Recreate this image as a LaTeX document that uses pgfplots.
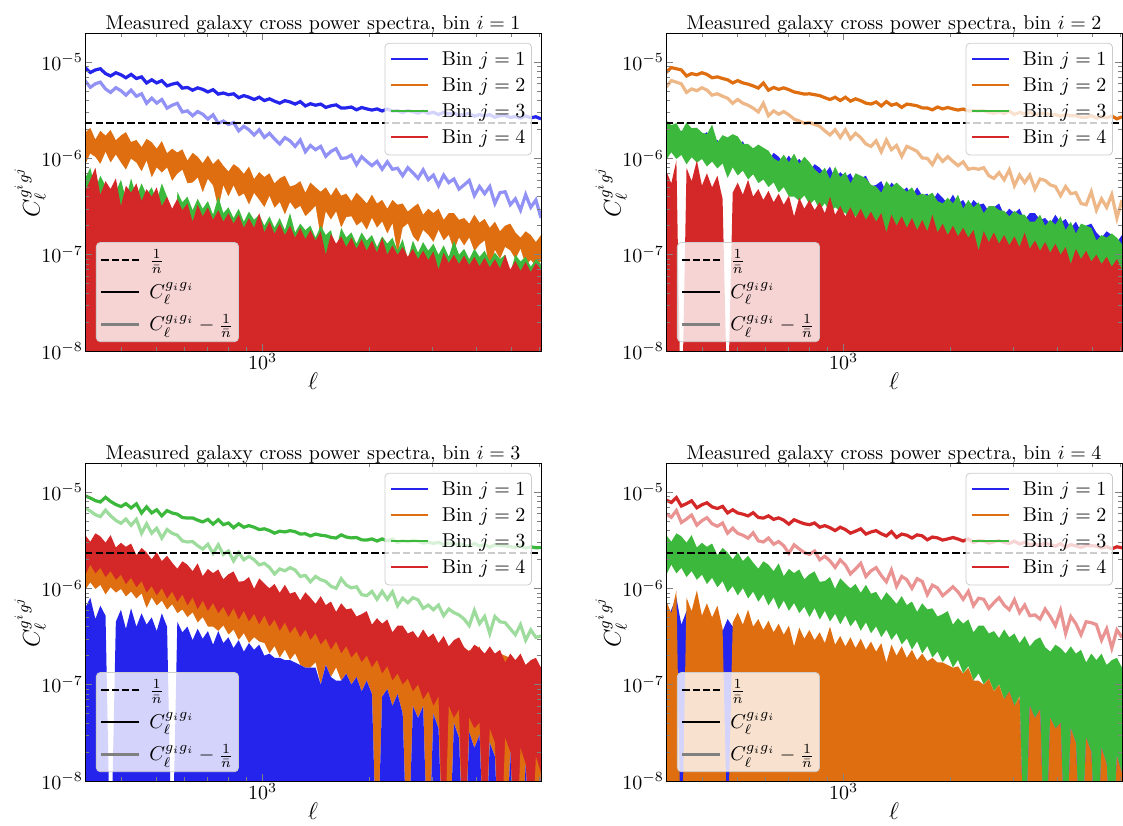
\documentclass[border=0pt]{standalone}
\usepackage{pgfplots}
\usepackage{pgfplotstable}
\pgfplotsset{compat=1.18}

\definecolor{cb}{RGB}{36,36,236}
\definecolor{co}{RGB}{222,110,16}
\definecolor{cg}{RGB}{60,185,60}
\definecolor{cr}{RGB}{212,40,40}

\pgfplotstableread{
n c1 c2 c3 c4 c5 c6 c7 c8 c9 c10 c11 c12 c13 c14 c15 c16 c17 c18 c19 c20 c21 c22 c23 c24 c25 c26 c27 c28 c29 c30 c31 c32 c33 c34 c35 c36 c37 c38 c39 c40 c41 c42 c43 c44 c45 c46 c47 c48 c49 c50 c51 c52 c53 c54 c55 c56 c57 c58 c59 c60 c61 c62 c63 c64 c65 c66 c67 c68 c69 c70 c71 c72 c73 c74 c75 c76 c77 c78 c79 c80 c81 c82 c83 c84 c85 c86 c87 c88 c89 c90
l 316 327 338 349 361 373 386 399 412 426 441 456 471 487 503 520 538 556 575 594 614 635 656 678 701 725 750 775 801 828 856 885 915 946 978 1011 1045 1080 1117 1155 1194 1234 1276 1319 1363 1409 1457 1506 1557 1610 1664 1720 1778 1838 1900 1964 2031 2099 2170 2244 2320 2398 2479 2563 2649 2739 2831 2927 3026 3128 3234 3343 3456 3573 3693 3818 3947 4081 4218 4361 4508 4660 4818 4981 5149 5323 5503 5689 5881 6080
aa 8.75e-6 7.79e-6 8.27e-6 8.51e-6 7.58e-6 7.16e-6 7.74e-6 7.37e-6 6.86e-6 7.44e-6 6.74e-6 7.01e-6 6.06e-6 6.54e-6 6.07e-6 6.41e-6 5.65e-6 5.89e-6 6.06e-6 5.36e-6 5.44e-6 5.10e-6 5.39e-6 5.20e-6 4.89e-6 5.16e-6 4.64e-6 4.77e-6 4.58e-6 4.68e-6 4.26e-6 4.48e-6 4.31e-6 4.08e-6 4.31e-6 3.98e-6 4.15e-6 3.92e-6 3.74e-6 3.97e-6 3.85e-6 3.66e-6 3.88e-6 3.50e-6 3.69e-6 3.56e-6 3.66e-6 3.38e-6 3.51e-6 3.59e-6 3.33e-6 3.34e-6 3.41e-6 3.19e-6 3.37e-6 3.26e-6 3.17e-6 3.26e-6 3.10e-6 3.25e-6 3.10e-6 3.12e-6 2.99e-6 3.13e-6 3.04e-6 2.95e-6 3.09e-6 2.93e-6 3.00e-6 2.85e-6 3.00e-6 2.89e-6 2.94e-6 2.81e-6 2.86e-6 2.92e-6 2.74e-6 2.84e-6 2.76e-6 2.84e-6 2.67e-6 2.77e-6 2.78e-6 2.66e-6 2.71e-6 2.62e-6 2.75e-6 2.64e-6 2.70e-6 2.57e-6
sa 6.42e-6 5.46e-6 5.94e-6 6.18e-6 5.25e-6 4.83e-6 5.41e-6 5.04e-6 4.53e-6 5.11e-6 4.41e-6 4.68e-6 3.73e-6 4.21e-6 3.74e-6 4.08e-6 3.32e-6 3.56e-6 3.73e-6 3.03e-6 3.11e-6 2.77e-6 3.06e-6 2.87e-6 2.56e-6 2.83e-6 2.31e-6 2.44e-6 2.25e-6 2.35e-6 1.93e-6 2.15e-6 1.98e-6 1.75e-6 1.98e-6 1.65e-6 1.82e-6 1.59e-6 1.41e-6 1.64e-6 1.52e-6 1.33e-6 1.55e-6 1.17e-6 1.36e-6 1.23e-6 1.33e-6 1.05e-6 1.18e-6 1.26e-6 1.00e-6 1.01e-6 1.08e-6 0.86e-6 1.04e-6 0.93e-6 0.84e-6 0.93e-6 0.77e-6 0.92e-6 0.77e-6 0.79e-6 0.66e-6 0.80e-6 0.71e-6 0.62e-6 0.76e-6 0.60e-6 0.67e-6 0.52e-6 0.67e-6 0.56e-6 0.61e-6 0.48e-6 0.53e-6 0.59e-6 0.41e-6 0.51e-6 0.43e-6 0.51e-6 0.34e-6 0.44e-6 0.45e-6 0.33e-6 0.38e-6 0.29e-6 0.42e-6 0.31e-6 0.37e-6 0.24e-6
ab 7.79e-6 8.75e-6 8.51e-6 8.27e-6 7.16e-6 7.58e-6 7.37e-6 7.74e-6 7.44e-6 6.86e-6 7.01e-6 6.74e-6 6.54e-6 6.06e-6 6.41e-6 6.07e-6 5.89e-6 5.65e-6 5.36e-6 6.06e-6 5.10e-6 5.44e-6 5.20e-6 5.39e-6 5.16e-6 4.89e-6 4.77e-6 4.64e-6 4.68e-6 4.58e-6 4.48e-6 4.26e-6 4.08e-6 4.31e-6 3.98e-6 4.31e-6 3.92e-6 4.15e-6 3.97e-6 3.74e-6 3.66e-6 3.85e-6 3.50e-6 3.88e-6 3.56e-6 3.69e-6 3.38e-6 3.66e-6 3.59e-6 3.51e-6 3.34e-6 3.33e-6 3.19e-6 3.41e-6 3.26e-6 3.37e-6 3.26e-6 3.17e-6 3.25e-6 3.10e-6 3.12e-6 3.10e-6 3.13e-6 2.99e-6 2.95e-6 3.04e-6 2.93e-6 3.09e-6 2.85e-6 3.00e-6 2.89e-6 3.00e-6 2.81e-6 2.94e-6 2.92e-6 2.86e-6 2.84e-6 2.74e-6 2.84e-6 2.76e-6 2.77e-6 2.67e-6 2.66e-6 2.78e-6 2.62e-6 2.71e-6 2.64e-6 2.75e-6 2.57e-6 2.70e-6
sb 5.46e-6 6.42e-6 6.18e-6 5.94e-6 4.83e-6 5.25e-6 5.04e-6 5.41e-6 5.11e-6 4.53e-6 4.68e-6 4.41e-6 4.21e-6 3.73e-6 4.08e-6 3.74e-6 3.56e-6 3.32e-6 3.03e-6 3.73e-6 2.77e-6 3.11e-6 2.87e-6 3.06e-6 2.83e-6 2.56e-6 2.44e-6 2.31e-6 2.35e-6 2.25e-6 2.15e-6 1.93e-6 1.75e-6 1.98e-6 1.65e-6 1.98e-6 1.59e-6 1.82e-6 1.64e-6 1.41e-6 1.33e-6 1.52e-6 1.17e-6 1.55e-6 1.23e-6 1.36e-6 1.05e-6 1.33e-6 1.26e-6 1.18e-6 1.01e-6 1.00e-6 0.86e-6 1.08e-6 0.93e-6 1.04e-6 0.93e-6 0.84e-6 0.92e-6 0.77e-6 0.79e-6 0.77e-6 0.80e-6 0.66e-6 0.62e-6 0.71e-6 0.60e-6 0.76e-6 0.52e-6 0.67e-6 0.56e-6 0.67e-6 0.48e-6 0.61e-6 0.59e-6 0.53e-6 0.51e-6 0.41e-6 0.51e-6 0.43e-6 0.44e-6 0.34e-6 0.33e-6 0.45e-6 0.29e-6 0.38e-6 0.31e-6 0.42e-6 0.24e-6 0.37e-6
ac 9.15e-6 8.67e-6 8.14e-6 7.88e-6 8.81e-6 7.99e-6 7.41e-6 7.06e-6 7.57e-6 6.84e-6 7.54e-6 6.06e-6 7.01e-6 6.07e-6 6.54e-6 5.65e-6 6.41e-6 6.06e-6 5.89e-6 5.44e-6 5.36e-6 5.39e-6 5.10e-6 4.89e-6 5.20e-6 4.64e-6 5.16e-6 4.58e-6 4.77e-6 4.26e-6 4.68e-6 4.31e-6 4.48e-6 4.31e-6 4.08e-6 4.15e-6 3.98e-6 3.74e-6 3.92e-6 3.85e-6 3.97e-6 3.88e-6 3.66e-6 3.69e-6 3.50e-6 3.66e-6 3.56e-6 3.51e-6 3.38e-6 3.33e-6 3.59e-6 3.41e-6 3.34e-6 3.37e-6 3.19e-6 3.17e-6 3.26e-6 3.10e-6 3.26e-6 3.10e-6 3.25e-6 2.99e-6 3.12e-6 3.04e-6 3.13e-6 3.09e-6 2.95e-6 3.00e-6 2.93e-6 3.00e-6 2.85e-6 2.94e-6 2.89e-6 2.86e-6 2.81e-6 2.74e-6 2.92e-6 2.76e-6 2.84e-6 2.67e-6 2.84e-6 2.78e-6 2.77e-6 2.71e-6 2.66e-6 2.75e-6 2.62e-6 2.70e-6 2.64e-6 2.65e-6
sc 6.82e-6 6.34e-6 5.81e-6 5.55e-6 6.48e-6 5.66e-6 5.08e-6 4.73e-6 5.24e-6 4.51e-6 5.21e-6 3.73e-6 4.68e-6 3.74e-6 4.21e-6 3.32e-6 4.08e-6 3.73e-6 3.56e-6 3.11e-6 3.03e-6 3.06e-6 2.77e-6 2.56e-6 2.87e-6 2.31e-6 2.83e-6 2.25e-6 2.44e-6 1.93e-6 2.35e-6 1.98e-6 2.15e-6 1.98e-6 1.75e-6 1.82e-6 1.65e-6 1.41e-6 1.59e-6 1.52e-6 1.64e-6 1.55e-6 1.33e-6 1.36e-6 1.17e-6 1.33e-6 1.23e-6 1.18e-6 1.05e-6 1.00e-6 1.26e-6 1.08e-6 1.01e-6 1.04e-6 0.86e-6 0.84e-6 0.93e-6 0.77e-6 0.93e-6 0.77e-6 0.92e-6 0.66e-6 0.79e-6 0.71e-6 0.80e-6 0.76e-6 0.62e-6 0.67e-6 0.60e-6 0.67e-6 0.52e-6 0.61e-6 0.56e-6 0.53e-6 0.48e-6 0.41e-6 0.59e-6 0.43e-6 0.51e-6 0.34e-6 0.51e-6 0.45e-6 0.44e-6 0.38e-6 0.33e-6 0.42e-6 0.29e-6 0.37e-6 0.31e-6 0.32e-6
ad 8.27e-6 7.79e-6 8.75e-6 7.16e-6 7.58e-6 8.10e-6 6.86e-6 7.37e-6 7.74e-6 7.01e-6 6.74e-6 7.10e-6 6.07e-6 6.54e-6 6.06e-6 5.89e-6 5.65e-6 6.10e-6 5.44e-6 5.36e-6 5.66e-6 5.20e-6 5.39e-6 5.10e-6 4.64e-6 5.16e-6 4.89e-6 4.68e-6 4.58e-6 4.77e-6 4.31e-6 4.48e-6 4.26e-6 3.98e-6 4.31e-6 4.08e-6 3.74e-6 3.92e-6 4.15e-6 3.66e-6 3.85e-6 3.97e-6 3.69e-6 3.50e-6 3.88e-6 3.38e-6 3.66e-6 3.56e-6 3.33e-6 3.59e-6 3.51e-6 3.19e-6 3.41e-6 3.34e-6 3.17e-6 3.26e-6 3.37e-6 3.25e-6 3.10e-6 3.26e-6 2.99e-6 3.12e-6 3.10e-6 2.95e-6 3.04e-6 3.13e-6 3.00e-6 2.93e-6 3.09e-6 2.89e-6 3.00e-6 2.85e-6 2.86e-6 2.81e-6 2.94e-6 2.84e-6 2.74e-6 2.92e-6 2.67e-6 2.84e-6 2.76e-6 2.66e-6 2.78e-6 2.77e-6 2.75e-6 2.62e-6 2.71e-6 2.57e-6 2.70e-6 2.64e-6
sd 5.94e-6 5.46e-6 6.42e-6 4.83e-6 5.25e-6 5.77e-6 4.53e-6 5.04e-6 5.41e-6 4.68e-6 4.41e-6 4.77e-6 3.74e-6 4.21e-6 3.73e-6 3.56e-6 3.32e-6 3.77e-6 3.11e-6 3.03e-6 3.33e-6 2.87e-6 3.06e-6 2.77e-6 2.31e-6 2.83e-6 2.56e-6 2.35e-6 2.25e-6 2.44e-6 1.98e-6 2.15e-6 1.93e-6 1.65e-6 1.98e-6 1.75e-6 1.41e-6 1.59e-6 1.82e-6 1.33e-6 1.52e-6 1.64e-6 1.36e-6 1.17e-6 1.55e-6 1.05e-6 1.33e-6 1.23e-6 1.00e-6 1.26e-6 1.18e-6 0.86e-6 1.08e-6 1.01e-6 0.84e-6 0.93e-6 1.04e-6 0.92e-6 0.77e-6 0.93e-6 0.66e-6 0.79e-6 0.77e-6 0.62e-6 0.71e-6 0.80e-6 0.67e-6 0.60e-6 0.76e-6 0.56e-6 0.67e-6 0.52e-6 0.53e-6 0.48e-6 0.61e-6 0.51e-6 0.41e-6 0.59e-6 0.34e-6 0.51e-6 0.43e-6 0.33e-6 0.45e-6 0.44e-6 0.42e-6 0.29e-6 0.38e-6 0.24e-6 0.37e-6 0.31e-6
pu 1.84e-6 2.07e-6 1.57e-6 1.93e-6 1.72e-6 1.97e-6 1.54e-6 1.73e-6 1.87e-6 1.48e-6 1.55e-6 1.31e-6 1.59e-6 1.47e-6 1.26e-6 1.51e-6 1.13e-6 1.26e-6 1.15e-6 1.24e-6 0.95e-6 1.14e-6 1.04e-6 0.89e-6 1.07e-6 0.87e-6 0.99e-6 0.84e-6 0.73e-6 0.87e-6 0.80e-6 0.69e-6 0.82e-6 0.61e-6 0.72e-6 0.64e-6 0.70e-6 0.55e-6 0.62e-6 0.66e-6 0.51e-6 0.53e-6 0.58e-6 0.44e-6 0.56e-6 0.50e-6 0.45e-6 0.50e-6 0.41e-6 0.50e-6 0.41e-6 0.43e-6 0.36e-6 0.44e-6 0.39e-6 0.34e-6 0.42e-6 0.34e-6 0.37e-6 0.30e-6 0.37e-6 0.33e-6 0.34e-6 0.28e-6 0.31e-6 0.34e-6 0.26e-6 0.30e-6 0.27e-6 0.30e-6 0.23e-6 0.27e-6 0.27e-6 0.23e-6 0.24e-6 0.21e-6 0.26e-6 0.215e-6 0.235e-6 0.19e-6 0.22e-6 0.175e-6 0.20e-6 0.21e-6 0.17e-6 0.15e-6 0.175e-6 0.16e-6 0.135e-6 0.16e-6
pl 0.85e-6 1.12e-6 1.03e-6 0.87e-6 1.16e-6 0.90e-6 1.09e-6 0.90e-6 0.76e-6 0.99e-6 0.90e-6 0.73e-6 0.94e-6 0.63e-6 0.80e-6 0.71e-6 0.80e-6 0.58e-6 0.69e-6 0.76e-6 0.55e-6 0.56e-6 0.63e-6 0.44e-6 0.61e-6 0.52e-6 0.30e-6 0.52e-6 0.40e-6 0.52e-6 0.40e-6 0.43e-6 0.33e-6 0.435e-6 0.37e-6 0.31e-6 0.405e-6 0.305e-6 0.35e-6 0.26e-6 0.35e-6 0.295e-6 0.32e-6 0.25e-6 0.28e-6 0.32e-6 0.15e-6 0.28e-6 0.23e-6 0.28e-6 0.19e-6 0.245e-6 0.25e-6 0.20e-6 0.22e-6 0.18e-6 0.24e-6 0.19e-6 0.22e-6 0.165e-6 0.21e-6 0.10e-6 0.19e-6 0.21e-6 0.155e-6 0.135e-6 0.18e-6 0.16e-6 0.135e-6 0.18e-6 0.14e-6 0.16e-6 0.11e-6 0.15e-6 0.124e-6 0.15e-6 0.108e-6 0.127e-6 0.14e-6 0.065e-6 0.112e-6 0.09e-6 0.12e-6 0.11e-6 0.09e-6 0.114e-6 0.077e-6 0.088e-6 0.076e-6 0.085e-6
qu 2.48e-6 2.21e-6 2.32e-6 1.88e-6 2.36e-6 2.06e-6 2.08e-6 1.85e-6 1.78e-6 2.24e-6 1.47e-6 1.74e-6 1.65e-6 1.78e-6 1.69e-6 1.41e-6 1.41e-6 1.27e-6 1.39e-6 1.29e-6 1.20e-6 1.00e-6 0.93e-6 1.09e-6 0.91e-6 1.12e-6 0.88e-6 1.04e-6 0.91e-6 0.77e-6 0.69e-6 0.80e-6 0.61e-6 0.82e-6 0.64e-6 0.72e-6 0.55e-6 0.70e-6 0.66e-6 0.62e-6 0.53e-6 0.51e-6 0.44e-6 0.58e-6 0.50e-6 0.56e-6 0.50e-6 0.45e-6 0.50e-6 0.41e-6 0.43e-6 0.41e-6 0.44e-6 0.36e-6 0.34e-6 0.39e-6 0.34e-6 0.42e-6 0.30e-6 0.37e-6 0.31e-6 0.35e-6 0.27e-6 0.32e-6 0.32e-6 0.29e-6 0.285e-6 0.25e-6 0.285e-6 0.26e-6 0.26e-6 0.22e-6 0.22e-6 0.26e-6 0.20e-6 0.23e-6 0.205e-6 0.25e-6 0.18e-6 0.22e-6 0.166e-6 0.21e-6 0.20e-6 0.19e-6 0.14e-6 0.16e-6 0.15e-6 0.166e-6 0.15e-6 0.128e-6
ql 0.95e-6 1.15e-6 0.98e-6 1.08e-6 0.86e-6 1.02e-6 0.90e-6 0.98e-6 0.82e-6 0.92e-6 0.78e-6 0.88e-6 0.62e-6 0.80e-6 0.66e-6 0.74e-6 0.60e-6 0.68e-6 0.55e-6 0.60e-6 0.50e-6 0.56e-6 0.44e-6 0.50e-6 0.40e-6 0.40e-6 0.36e-6 0.41e-6 0.33e-6 0.37e-6 0.29e-6 0.34e-6 0.27e-6 0.31e-6 0.28e-6 0.27e-6 0.21e-6 0.25e-6 0.19e-6 0.23e-6 0.18e-6 0.21e-6 0.16e-6 0.15e-6 0.15e-6 0.17e-6 0.10e-6 0.16e-6 0.12e-6 0.15e-6 0.11e-6 0.13e-6 0.10e-6 0.12e-6 0.085e-6 0.11e-6 0.08e-6 0.001e-6 0.075e-6 0.09e-6 0.06e-6 0.08e-6 0.05e-6 0.001e-6 0.06e-6 0.045e-6 0.06e-6 0.001e-6 0.05e-6 0.035e-6 0.045e-6 0.001e-6 0.04e-6 0.028e-6 0.001e-6 0.032e-6 0.022e-6 0.03e-6 0.001e-6 0.025e-6 0.018e-6 0.024e-6 0.001e-6 0.02e-6 0.015e-6 0.001e-6 0.018e-6 0.012e-6 0.001e-6 0.015e-6
ru 3.60e-6 3.05e-6 3.73e-6 3.47e-6 2.98e-6 3.57e-6 2.66e-6 2.97e-6 2.70e-6 2.92e-6 2.21e-6 2.63e-6 2.36e-6 2.00e-6 2.37e-6 1.92e-6 2.18e-6 1.85e-6 1.60e-6 1.91e-6 1.76e-6 1.51e-6 1.82e-6 1.34e-6 1.59e-6 1.44e-6 1.57e-6 1.24e-6 1.40e-6 1.50e-6 1.17e-6 1.19e-6 1.31e-6 0.99e-6 1.27e-6 1.12e-6 1.00e-6 1.11e-6 0.90e-6 1.09e-6 0.88e-6 0.92e-6 0.75e-6 0.91e-6 0.80e-6 0.69e-6 0.83e-6 0.67e-6 0.73e-6 0.57e-6 0.70e-6 0.605e-6 0.62e-6 0.51e-6 0.54e-6 0.58e-6 0.42e-6 0.49e-6 0.43e-6 0.475e-6 0.35e-6 0.41e-6 0.41e-6 0.34e-6 0.36e-6 0.305e-6 0.375e-6 0.31e-6 0.34e-6 0.27e-6 0.32e-6 0.25e-6 0.29e-6 0.31e-6 0.245e-6 0.22e-6 0.26e-6 0.24e-6 0.21e-6 0.25e-6 0.21e-6 0.23e-6 0.17e-6 0.21e-6 0.18e-6 0.21e-6 0.16e-6 0.18e-6 0.19e-6 0.15e-6
rl 1.35e-6 1.75e-6 1.42e-6 1.62e-6 1.30e-6 1.50e-6 1.22e-6 1.38e-6 1.10e-6 1.28e-6 1.02e-6 1.18e-6 0.90e-6 1.05e-6 0.84e-6 1.00e-6 0.78e-6 0.92e-6 0.72e-6 0.86e-6 0.66e-6 0.80e-6 0.60e-6 0.74e-6 0.58e-6 0.70e-6 0.55e-6 0.64e-6 0.50e-6 0.62e-6 0.47e-6 0.58e-6 0.45e-6 0.54e-6 0.42e-6 0.52e-6 0.40e-6 0.47e-6 0.36e-6 0.44e-6 0.34e-6 0.40e-6 0.31e-6 0.37e-6 0.29e-6 0.34e-6 0.26e-6 0.30e-6 0.23e-6 0.28e-6 0.21e-6 0.25e-6 0.19e-6 0.22e-6 0.17e-6 0.20e-6 0.15e-6 0.18e-6 0.13e-6 0.155e-6 0.11e-6 0.13e-6 0.10e-6 0.115e-6 0.085e-6 0.10e-6 0.07e-6 0.085e-6 0.06e-6 0.075e-6 0.001e-6 0.06e-6 0.045e-6 0.055e-6 0.001e-6 0.045e-6 0.035e-6 0.04e-6 0.001e-6 0.035e-6 0.025e-6 0.001e-6 0.028e-6 0.02e-6 0.001e-6 0.022e-6 0.015e-6 0.001e-6 0.018e-6 0.012e-6
fa 0.62e-6 0.80e-6 0.48e-6 0.66e-6 0.52e-6 0.001e-6 0.45e-6 0.60e-6 0.38e-6 0.62e-6 0.40e-6 0.55e-6 0.42e-6 0.50e-6 0.36e-6 0.55e-6 0.40e-6 0.001e-6 0.45e-6 0.35e-6 0.40e-6 0.29e-6 0.38e-6 0.30e-6 0.36e-6 0.26e-6 0.40e-6 0.27e-6 0.31e-6 0.24e-6 0.30e-6 0.22e-6 0.28e-6 0.23e-6 0.26e-6 0.20e-6 0.25e-6 0.19e-6 0.24e-6 0.18e-6 0.27e-6 0.17e-6 0.21e-6 0.18e-6 0.20e-6 0.15e-6 0.20e-6 0.16e-6 0.18e-6 0.11e-6 0.19e-6 0.15e-6 0.17e-6 0.13e-6 0.17e-6 0.14e-6 0.16e-6 0.12e-6 0.155e-6 0.13e-6 0.15e-6 0.11e-6 0.145e-6 0.09e-6 0.14e-6 0.105e-6 0.135e-6 0.11e-6 0.13e-6 0.10e-6 0.125e-6 0.095e-6 0.14e-6 0.10e-6 0.115e-6 0.09e-6 0.115e-6 0.095e-6 0.11e-6 0.085e-6 0.105e-6 0.09e-6 0.10e-6 0.065e-6 0.10e-6 0.085e-6 0.095e-6 0.075e-6 0.09e-6 0.08e-6
fb 0.45e-6 0.60e-6 0.80e-6 0.42e-6 0.58e-6 0.48e-6 0.62e-6 0.32e-6 0.52e-6 0.44e-6 0.55e-6 0.36e-6 0.48e-6 0.40e-6 0.50e-6 0.32e-6 0.40e-6 0.30e-6 0.38e-6 0.29e-6 0.34e-6 0.22e-6 0.33e-6 0.25e-6 0.31e-6 0.23e-6 0.29e-6 0.22e-6 0.27e-6 0.21e-6 0.26e-6 0.19e-6 0.24e-6 0.19e-6 0.27e-6 0.17e-6 0.22e-6 0.165e-6 0.21e-6 0.16e-6 0.20e-6 0.15e-6 0.19e-6 0.145e-6 0.18e-6 0.14e-6 0.175e-6 0.10e-6 0.165e-6 0.13e-6 0.155e-6 0.12e-6 0.15e-6 0.115e-6 0.145e-6 0.11e-6 0.14e-6 0.105e-6 0.15e-6 0.10e-6 0.125e-6 0.10e-6 0.12e-6 0.095e-6 0.115e-6 0.09e-6 0.11e-6 0.088e-6 0.108e-6 0.07e-6 0.105e-6 0.082e-6 0.10e-6 0.08e-6 0.098e-6 0.078e-6 0.095e-6 0.076e-6 0.093e-6 0.074e-6 0.09e-6 0.072e-6 0.10e-6 0.07e-6 0.086e-6 0.068e-6 0.084e-6 0.066e-6 0.082e-6 0.07e-6
fc 0.75e-6 0.55e-6 0.95e-6 0.001e-6 0.80e-6 0.58e-6 0.95e-6 0.52e-6 0.70e-6 0.50e-6 0.66e-6 0.38e-6 0.002e-6 0.44e-6 0.56e-6 0.42e-6 0.60e-6 0.40e-6 0.48e-6 0.37e-6 0.46e-6 0.35e-6 0.43e-6 0.33e-6 0.41e-6 0.25e-6 0.39e-6 0.30e-6 0.37e-6 0.29e-6 0.35e-6 0.27e-6 0.40e-6 0.26e-6 0.32e-6 0.25e-6 0.31e-6 0.24e-6 0.30e-6 0.23e-6 0.28e-6 0.22e-6 0.27e-6 0.17e-6 0.26e-6 0.20e-6 0.25e-6 0.19e-6 0.24e-6 0.18e-6 0.23e-6 0.175e-6 0.26e-6 0.17e-6 0.21e-6 0.16e-6 0.20e-6 0.155e-6 0.19e-6 0.15e-6 0.18e-6 0.11e-6 0.175e-6 0.135e-6 0.17e-6 0.13e-6 0.16e-6 0.125e-6 0.155e-6 0.12e-6 0.17e-6 0.115e-6 0.14e-6 0.11e-6 0.135e-6 0.105e-6 0.13e-6 0.10e-6 0.12e-6 0.08e-6 0.115e-6 0.09e-6 0.11e-6 0.085e-6 0.10e-6 0.08e-6 0.095e-6 0.075e-6 0.09e-6 0.07e-6
mq 0.95e-6 1.15e-6 0.98e-6 1.08e-6 0.86e-6 1.02e-6 0.90e-6 0.98e-6 0.82e-6 0.92e-6 0.78e-6 0.88e-6 0.62e-6 0.80e-6 0.66e-6 0.74e-6 0.60e-6 0.68e-6 0.55e-6 0.60e-6 0.50e-6 0.56e-6 0.44e-6 0.50e-6 0.40e-6 0.40e-6 0.36e-6 0.41e-6 0.33e-6 0.37e-6 0.29e-6 0.34e-6 0.27e-6 0.31e-6 0.28e-6 0.27e-6 0.21e-6 0.25e-6 0.19e-6 0.23e-6 0.18e-6 0.21e-6 0.16e-6 0.15e-6 0.15e-6 0.17e-6 0.10e-6 0.16e-6 0.12e-6 0.15e-6 0.11e-6 0.13e-6 0.10e-6 0.12e-6 0.085e-6 0.11e-6 0.08e-6 0.001e-6 0.075e-6 0.09e-6 0.06e-6 0.08e-6 0.05e-6 0.001e-6 0.06e-6 0.045e-6 0.06e-6 0.001e-6 0.05e-6 0.035e-6 0.001e-6 0.001e-6 0.04e-6 0.028e-6 0.001e-6 0.032e-6 0.022e-6 0.03e-6 0.001e-6 0.025e-6 0.018e-6 0.001e-6 0.001e-6 0.02e-6 0.001e-6 0.001e-6 0.015e-6 0.001e-6 0.001e-6 0.012e-6
mb 0.62e-6 0.80e-6 0.48e-6 0.66e-6 0.52e-6 0.001e-6 0.45e-6 0.60e-6 0.38e-6 0.62e-6 0.40e-6 0.55e-6 0.42e-6 0.50e-6 0.36e-6 0.55e-6 0.40e-6 0.001e-6 0.45e-6 0.35e-6 0.40e-6 0.29e-6 0.38e-6 0.30e-6 0.36e-6 0.26e-6 0.36e-6 0.27e-6 0.31e-6 0.24e-6 0.29e-6 0.22e-6 0.27e-6 0.23e-6 0.26e-6 0.20e-6 0.21e-6 0.19e-6 0.19e-6 0.18e-6 0.18e-6 0.17e-6 0.16e-6 0.15e-6 0.15e-6 0.15e-6 0.10e-6 0.16e-6 0.12e-6 0.11e-6 0.11e-6 0.13e-6 0.10e-6 0.12e-6 0.085e-6 0.11e-6 0.08e-6 0.001e-6 0.075e-6 0.09e-6 0.06e-6 0.08e-6 0.05e-6 0.001e-6 0.06e-6 0.045e-6 0.06e-6 0.001e-6 0.05e-6 0.035e-6 0.001e-6 0.001e-6 0.04e-6 0.028e-6 0.001e-6 0.032e-6 0.022e-6 0.03e-6 0.001e-6 0.025e-6 0.018e-6 0.001e-6 0.001e-6 0.02e-6 0.001e-6 0.001e-6 0.015e-6 0.001e-6 0.001e-6 0.012e-6
mfb 0.45e-6 0.60e-6 0.80e-6 0.42e-6 0.58e-6 0.48e-6 0.62e-6 0.32e-6 0.52e-6 0.44e-6 0.55e-6 0.36e-6 0.48e-6 0.40e-6 0.50e-6 0.32e-6 0.40e-6 0.30e-6 0.38e-6 0.29e-6 0.34e-6 0.22e-6 0.33e-6 0.25e-6 0.31e-6 0.23e-6 0.29e-6 0.22e-6 0.27e-6 0.21e-6 0.26e-6 0.19e-6 0.24e-6 0.19e-6 0.27e-6 0.17e-6 0.22e-6 0.165e-6 0.21e-6 0.16e-6 0.20e-6 0.15e-6 0.19e-6 0.145e-6 0.18e-6 0.14e-6 0.175e-6 0.10e-6 0.165e-6 0.13e-6 0.155e-6 0.12e-6 0.15e-6 0.115e-6 0.145e-6 0.11e-6 0.14e-6 0.105e-6 0.13e-6 0.10e-6 0.11e-6 0.10e-6 0.10e-6 0.095e-6 0.085e-6 0.09e-6 0.07e-6 0.085e-6 0.06e-6 0.07e-6 0.001e-6 0.06e-6 0.045e-6 0.055e-6 0.001e-6 0.045e-6 0.035e-6 0.04e-6 0.001e-6 0.035e-6 0.025e-6 0.001e-6 0.028e-6 0.02e-6 0.001e-6 0.022e-6 0.015e-6 0.001e-6 0.018e-6 0.012e-6
mfc 0.75e-6 0.55e-6 0.95e-6 0.001e-6 0.80e-6 0.58e-6 0.95e-6 0.52e-6 0.70e-6 0.50e-6 0.66e-6 0.38e-6 0.002e-6 0.44e-6 0.56e-6 0.42e-6 0.60e-6 0.40e-6 0.48e-6 0.37e-6 0.46e-6 0.35e-6 0.43e-6 0.33e-6 0.41e-6 0.25e-6 0.39e-6 0.30e-6 0.37e-6 0.29e-6 0.35e-6 0.27e-6 0.40e-6 0.26e-6 0.32e-6 0.25e-6 0.31e-6 0.24e-6 0.30e-6 0.23e-6 0.28e-6 0.22e-6 0.27e-6 0.17e-6 0.26e-6 0.20e-6 0.25e-6 0.19e-6 0.23e-6 0.18e-6 0.21e-6 0.175e-6 0.19e-6 0.17e-6 0.17e-6 0.16e-6 0.15e-6 0.155e-6 0.13e-6 0.15e-6 0.11e-6 0.11e-6 0.10e-6 0.115e-6 0.085e-6 0.10e-6 0.07e-6 0.085e-6 0.06e-6 0.075e-6 0.001e-6 0.06e-6 0.045e-6 0.055e-6 0.001e-6 0.045e-6 0.035e-6 0.04e-6 0.001e-6 0.035e-6 0.025e-6 0.001e-6 0.028e-6 0.02e-6 0.001e-6 0.022e-6 0.015e-6 0.001e-6 0.018e-6 0.012e-6
}\rawdata
\pgfplotstabletranspose[colnames from=n]\data\rawdata

\newcommand{\lline}[1]{\textcolor{#1}{\rule[0.6ex]{18.5pt}{1pt}}}
\newcommand{\kline}[1]{\textcolor{#1}{\rule[0.6ex]{19pt}{1.2pt}}}
\newcommand{\dline}{\rule[0.6ex]{3.6pt}{1.2pt}\hspace{1.5pt}\rule[0.6ex]{3.6pt}{1.2pt}\hspace{1.5pt}\rule[0.6ex]{3.6pt}{1.2pt}\hspace{1.5pt}\rule[0.6ex]{3.7pt}{1.2pt}}
\newcommand{\legA}{{\renewcommand{\arraystretch}{1.08}%
\begin{tabular}{@{}l@{\hspace{7pt}}l@{}}
\lline{cb} & Bin $j = 1$\\
\lline{co} & Bin $j = 2$\\
\lline{cg} & Bin $j = 3$\\
\lline{cr} & Bin $j = 4$
\end{tabular}}}
\newcommand{\legB}{{\renewcommand{\arraystretch}{1.35}%
\begin{tabular}{@{}l@{\hspace{5pt}}l@{}}
\dline & $\frac{1}{\bar{n}}$\\
\kline{black} & $C_\ell^{g_i g_i}$\\
\kline{black!50} & $C_\ell^{g_i g_i}-\frac{1}{\bar{n}}$
\end{tabular}}}

\begin{document}
\begin{tikzpicture}
\useasboundingbox (0,0) rectangle (561.5pt,412.5pt);

% ---------- panel i=1
\begin{axis}[xmode=log, ymode=log, scale only axis, width=228pt, height=159pt,
    at={(42.5pt,237pt)}, anchor=south west, axis on top, log origin y=infty,
    xmin=316, xmax=6080, ymin=1e-8, ymax=2e-5,
    tick align=inside, major tick length=3.5pt, minor tick length=2pt,
    xtick={100,1000,10000},
    minor xtick={400,500,600,700,800,900,2000,3000,4000,5000,6000},
    ytick={1e-8,1e-7,1e-6,1e-5},
    minor ytick={2e-8,3e-8,4e-8,5e-8,6e-8,7e-8,8e-8,9e-8,2e-7,3e-7,4e-7,5e-7,6e-7,7e-7,8e-7,9e-7,2e-6,3e-6,4e-6,5e-6,6e-6,7e-6,8e-6,9e-6,2e-5},
    xticklabel shift=-2.5pt, yticklabel shift=-2.5pt,
    xlabel shift=-5pt, ylabel shift=-9pt,
    title style={yshift=-10pt},
    xlabel={\large $\ell$}, ylabel={\large $C_\ell^{g^i g^j}$},
    title={Measured galaxy cross power spectra, bin $i = 1$}]
\addplot[fill=co, draw=none, forget plot] table[x=l, y=pu] {\data} \closedcycle;
\addplot[fill=white, draw=none, forget plot] table[x=l, y=pl] {\data} \closedcycle;
\addplot[fill=cg, draw=none, forget plot] table[x=l, y=fa] {\data} \closedcycle;
\addplot[fill=cr, draw=none, forget plot] table[x=l, y=fb] {\data} \closedcycle;
\addplot[cb, line width=1.6pt, forget plot] table[x=l, y=aa] {\data};
\addplot[cb!50!white, line width=1.6pt, forget plot] table[x=l, y=sa] {\data};
\addplot[black, line width=1.2pt, dash pattern=on 3.7pt off 1.6pt, forget plot] coordinates {(316,2.33e-6) (6080,2.33e-6)};
\node[draw=black!20, rounded corners=2pt, fill=white, fill opacity=0.8, text opacity=1, anchor=north east, inner xsep=3pt, inner ysep=2pt] at (rel axis cs:0.98,0.969) {\legA};
\node[draw=black!20, rounded corners=2pt, fill=white, fill opacity=0.8, text opacity=1, anchor=south west, inner xsep=2.5pt, inner ysep=0.5pt] at (rel axis cs:0.024,0.028) {\legB};
\end{axis}

% ---------- panel i=2
\begin{axis}[xmode=log, ymode=log, scale only axis, width=228pt, height=159pt,
    at={(333pt,237pt)}, anchor=south west, axis on top, log origin y=infty,
    xmin=316, xmax=6080, ymin=1e-8, ymax=2e-5,
    tick align=inside, major tick length=3.5pt, minor tick length=2pt,
    xtick={100,1000,10000},
    minor xtick={400,500,600,700,800,900,2000,3000,4000,5000,6000},
    ytick={1e-8,1e-7,1e-6,1e-5},
    minor ytick={2e-8,3e-8,4e-8,5e-8,6e-8,7e-8,8e-8,9e-8,2e-7,3e-7,4e-7,5e-7,6e-7,7e-7,8e-7,9e-7,2e-6,3e-6,4e-6,5e-6,6e-6,7e-6,8e-6,9e-6,2e-5},
    xticklabel shift=-2.5pt, yticklabel shift=-2.5pt,
    xlabel shift=-5pt, ylabel shift=-9pt,
    title style={yshift=-10pt},
    xlabel={\large $\ell$}, ylabel={\large $C_\ell^{g^i g^j}$},
    title={Measured galaxy cross power spectra, bin $i = 2$}]
\addplot[fill=cb, draw=none, forget plot] table[x=l, y=pu] {\data} \closedcycle;
\addplot[fill=white, draw=none, forget plot] table[x=l, y=pl] {\data} \closedcycle;
\addplot[fill=cg, draw=none, forget plot] table[x=l, y=qu] {\data} \closedcycle;
\addplot[fill=white, draw=none, forget plot] table[x=l, y=ql] {\data} \closedcycle;
\addplot[fill=cr, draw=none, forget plot] table[x=l, y=fc] {\data} \closedcycle;
\addplot[co, line width=1.6pt, forget plot] table[x=l, y=ab] {\data};
\addplot[co!50!white, line width=1.6pt, forget plot] table[x=l, y=sb] {\data};
\addplot[black, line width=1.2pt, dash pattern=on 3.7pt off 1.6pt, forget plot] coordinates {(316,2.33e-6) (6080,2.33e-6)};
\node[draw=black!20, rounded corners=2pt, fill=white, fill opacity=0.8, text opacity=1, anchor=north east, inner xsep=3pt, inner ysep=2pt] at (rel axis cs:0.98,0.969) {\legA};
\node[draw=black!20, rounded corners=2pt, fill=white, fill opacity=0.8, text opacity=1, anchor=south west, inner xsep=2.5pt, inner ysep=0.5pt] at (rel axis cs:0.024,0.028) {\legB};
\end{axis}

% ---------- panel i=3
\begin{axis}[xmode=log, ymode=log, scale only axis, width=228pt, height=159pt,
    at={(42.5pt,22pt)}, anchor=south west, axis on top, log origin y=infty,
    xmin=316, xmax=6080, ymin=1e-8, ymax=2e-5,
    tick align=inside, major tick length=3.5pt, minor tick length=2pt,
    xtick={100,1000,10000},
    minor xtick={400,500,600,700,800,900,2000,3000,4000,5000,6000},
    ytick={1e-8,1e-7,1e-6,1e-5},
    minor ytick={2e-8,3e-8,4e-8,5e-8,6e-8,7e-8,8e-8,9e-8,2e-7,3e-7,4e-7,5e-7,6e-7,7e-7,8e-7,9e-7,2e-6,3e-6,4e-6,5e-6,6e-6,7e-6,8e-6,9e-6,2e-5},
    xticklabel shift=-2.5pt, yticklabel shift=-2.5pt,
    xlabel shift=-5pt, ylabel shift=-9pt,
    title style={yshift=-10pt},
    xlabel={\large $\ell$}, ylabel={\large $C_\ell^{g^i g^j}$},
    title={Measured galaxy cross power spectra, bin $i = 3$}]
\addplot[fill=co, draw=none, forget plot] table[x=l, y=qu] {\data} \closedcycle;
\addplot[fill=cr, draw=none, forget plot] table[x=l, y=ru] {\data} \closedcycle;
\addplot[fill=co, draw=none, forget plot] table[x=l, y=rl] {\data} \closedcycle;
\addplot[fill=white, draw=none, forget plot] table[x=l, y=mq] {\data} \closedcycle;
\addplot[fill=cb, draw=none, forget plot] table[x=l, y=mb] {\data} \closedcycle;
\addplot[cg, line width=1.6pt, forget plot] table[x=l, y=ac] {\data};
\addplot[cg!50!white, line width=1.6pt, forget plot] table[x=l, y=sc] {\data};
\addplot[black, line width=1.2pt, dash pattern=on 3.7pt off 1.6pt, forget plot] coordinates {(316,2.33e-6) (6080,2.33e-6)};
\node[draw=black!20, rounded corners=2pt, fill=white, fill opacity=0.8, text opacity=1, anchor=north east, inner xsep=3pt, inner ysep=2pt] at (rel axis cs:0.98,0.969) {\legA};
\node[draw=black!20, rounded corners=2pt, fill=white, fill opacity=0.8, text opacity=1, anchor=south west, inner xsep=2.5pt, inner ysep=0.5pt] at (rel axis cs:0.024,0.028) {\legB};
\end{axis}

% ---------- panel i=4
\begin{axis}[xmode=log, ymode=log, scale only axis, width=228pt, height=159pt,
    at={(333pt,22pt)}, anchor=south west, axis on top, log origin y=infty,
    xmin=316, xmax=6080, ymin=1e-8, ymax=2e-5,
    tick align=inside, major tick length=3.5pt, minor tick length=2pt,
    xtick={100,1000,10000},
    minor xtick={400,500,600,700,800,900,2000,3000,4000,5000,6000},
    ytick={1e-8,1e-7,1e-6,1e-5},
    minor ytick={2e-8,3e-8,4e-8,5e-8,6e-8,7e-8,8e-8,9e-8,2e-7,3e-7,4e-7,5e-7,6e-7,7e-7,8e-7,9e-7,2e-6,3e-6,4e-6,5e-6,6e-6,7e-6,8e-6,9e-6,2e-5},
    xticklabel shift=-2.5pt, yticklabel shift=-2.5pt,
    xlabel shift=-5pt, ylabel shift=-9pt,
    title style={yshift=-10pt},
    xlabel={\large $\ell$}, ylabel={\large $C_\ell^{g^i g^j}$},
    title={Measured galaxy cross power spectra, bin $i = 4$}]
\addplot[fill=cg, draw=none, forget plot] table[x=l, y=ru] {\data} \closedcycle;
\addplot[fill=white, draw=none, forget plot] table[x=l, y=rl] {\data} \closedcycle;
\addplot[fill=cb, draw=none, forget plot] table[x=l, y=mfb] {\data} \closedcycle;
\addplot[fill=co, draw=none, forget plot] table[x=l, y=mfc] {\data} \closedcycle;
\addplot[cr, line width=1.6pt, forget plot] table[x=l, y=ad] {\data};
\addplot[cr!50!white, line width=1.6pt, forget plot] table[x=l, y=sd] {\data};
\addplot[black, line width=1.2pt, dash pattern=on 3.7pt off 1.6pt, forget plot] coordinates {(316,2.33e-6) (6080,2.33e-6)};
\node[draw=black!20, rounded corners=2pt, fill=white, fill opacity=0.8, text opacity=1, anchor=north east, inner xsep=3pt, inner ysep=2pt] at (rel axis cs:0.98,0.969) {\legA};
\node[draw=black!20, rounded corners=2pt, fill=white, fill opacity=0.8, text opacity=1, anchor=south west, inner xsep=2.5pt, inner ysep=0.5pt] at (rel axis cs:0.024,0.028) {\legB};
\end{axis}
\end{tikzpicture}
\end{document}
